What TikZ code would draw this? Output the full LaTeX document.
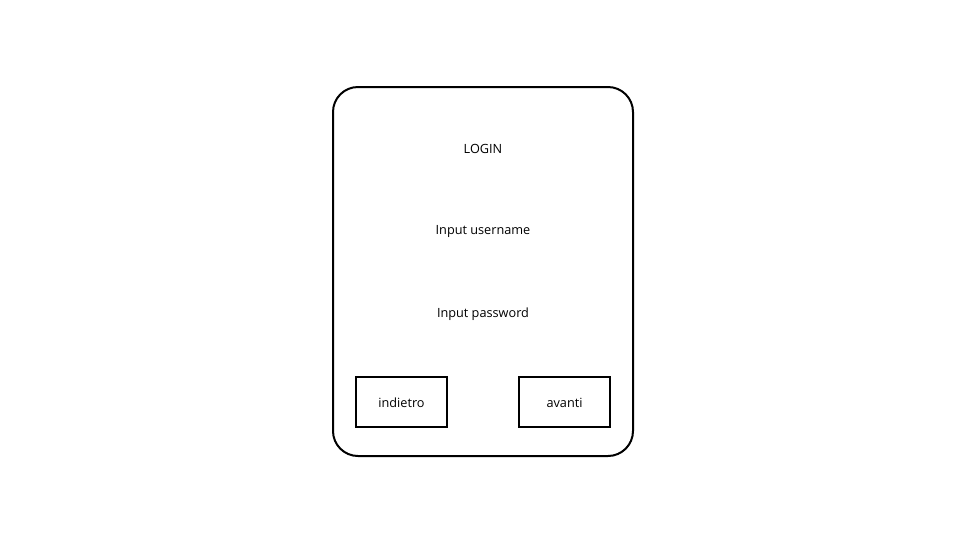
\documentclass[tikz,border=0pt]{standalone}
\usepackage{fontspec}
\setmainfont{Open Sans}
\begin{document}
\begin{tikzpicture}[x=1pt,y=-1pt,
  frame/.style={draw=black,line width=2pt,rounded corners=25pt},
  btn/.style={draw=black,line width=2pt,minimum width=91pt,minimum height=50pt,inner sep=0pt},
  lbl/.style={font=\fontsize{12.7}{15}\selectfont,inner sep=0pt}]
\useasboundingbox (0,0) rectangle (962,542);
\draw[frame] (333,87) rectangle (633,456);
\node[lbl] (title) at (483,148.5) {LOGIN};
\node[lbl] (user) at (483,231.5) {Input username};
\node[lbl] (pass) at (483,314.5) {Input password};
\node[btn] (back) at (401.5,401.5) {};
\node[lbl] (backt) at ([yshift=-1.5pt]back.center) {indietro};
\node[btn] (next) at (564.5,401.5) {};
\node[lbl] (nextt) at ([yshift=-1.5pt]next.center) {avanti};
\end{tikzpicture}
\end{document}
